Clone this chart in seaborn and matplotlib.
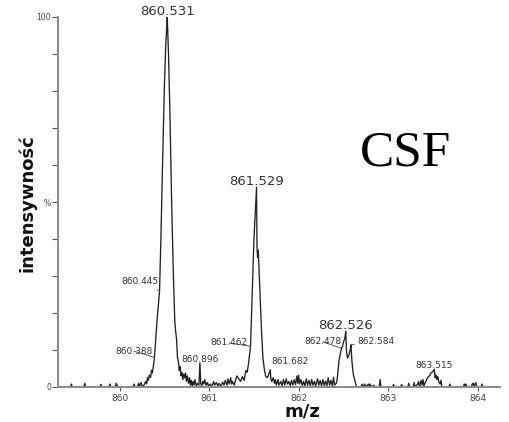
import matplotlib
matplotlib.use("Agg")
import matplotlib.pyplot as plt
import seaborn as sns
import pandas as pd

# ---- spectrum profile (m/z, relative intensity %) ----
mz = [
    859.31, 859.45, 859.46, 859.47, 859.60, 859.61, 859.62, 859.78, 859.79, 859.80,
    859.88, 859.89, 859.90, 859.95, 859.96, 859.97, 859.98, 860.15, 860.16, 860.17,
    860.20, 860.21, 860.22, 860.24, 860.25, 860.27, 860.29, 860.30, 860.31, 860.32,
    860.33, 860.345, 860.355, 860.365, 860.375, 860.388, 860.40, 860.42, 860.435, 860.445,
    860.46, 860.48, 860.50, 860.515, 860.525, 860.531, 860.537, 860.545, 860.56, 860.58,
    860.60, 860.615, 860.625, 860.635, 860.645, 860.655, 860.665, 860.675, 860.685, 860.695,
    860.705, 860.715, 860.725, 860.735, 860.745, 860.755, 860.77, 860.78, 860.79, 860.80,
    860.81, 860.82, 860.83, 860.84, 860.855, 860.87, 860.885, 860.896, 860.905, 860.915,
    860.93, 860.94, 860.95, 860.965, 860.98, 860.99, 861.01, 861.03, 861.05, 861.06,
    861.08, 861.095, 861.11, 861.13, 861.15, 861.165, 861.18, 861.20, 861.21, 861.225,
    861.24, 861.25, 861.26, 861.28, 861.295, 861.31, 861.33, 861.35, 861.37, 861.39,
    861.41, 861.425, 861.44, 861.462, 861.48, 861.50, 861.52, 861.529, 861.534, 861.54,
    861.548, 861.555, 861.57, 861.585, 861.60, 861.615, 861.63, 861.645, 861.66, 861.682,
    861.69, 861.70, 861.715, 861.73, 861.74, 861.75, 861.77, 861.78, 861.80, 861.815,
    861.83, 861.845, 861.86, 861.875, 861.89, 861.905, 861.92, 861.935, 861.95, 861.965,
    861.98, 861.99, 862.00, 862.01, 862.025, 862.04, 862.055, 862.07, 862.085, 862.10,
    862.115, 862.13, 862.145, 862.16, 862.175, 862.19, 862.21, 862.225, 862.24, 862.255,
    862.27, 862.285, 862.30, 862.315, 862.33, 862.345, 862.36, 862.375, 862.39, 862.40,
    862.42, 862.43, 862.45, 862.465, 862.478, 862.49, 862.505, 862.515, 862.526, 862.535,
    862.545, 862.56, 862.575, 862.584, 862.595, 862.61, 862.62, 862.63, 862.64, 862.655,
    862.70, 862.71, 862.72, 862.74, 862.75, 862.78, 862.79, 862.80, 862.81, 862.84,
    862.85, 862.90, 862.91, 862.92, 863.05, 863.06, 863.07, 863.14, 863.15, 863.16,
    863.22, 863.23, 863.24, 863.28, 863.29, 863.30, 863.33, 863.34, 863.35, 863.37,
    863.38, 863.39, 863.40, 863.42, 863.44, 863.46, 863.48, 863.50, 863.515, 863.525,
    863.535, 863.545, 863.555, 863.565, 863.58, 863.59, 863.60, 863.68, 863.69, 863.70,
    863.84, 863.85, 863.86, 863.87, 863.88, 863.93, 863.94, 863.95, 863.96, 863.98,
    863.99, 864.04, 864.05, 864.06, 864.24,
]
intensity = [
    0.0, 0.0, 0.8, 0.0, 0.0, 1.0, 0.0, 0.0, 0.7, 0.0,
    0.0, 0.8, 0.0, 0.0, 1.0, 0.5, 0.0, 0.0, 0.8, 0.0,
    0.0, 1.0, 0.3, 1.2, 0.0, 0.5, 1.5, 0.8, 2.5, 1.8,
    3.2, 2.6, 4.5, 3.8, 5.5, 8.0, 12.0, 19.0, 23.0, 26.0,
    40.0, 62.0, 82.0, 93.0, 97.0, 100.0, 96.0, 90.0, 75.0, 50.0,
    30.0, 18.0, 15.0, 13.0, 8.0, 7.0, 4.5, 5.5, 3.0, 4.0,
    2.0, 3.5, 2.5, 3.8, 1.5, 3.0, 1.0, 2.5, 0.5, 1.8,
    0.3, 1.5, 0.5, 2.0, 0.3, 1.0, 0.5, 6.5, 1.0, 0.3,
    1.5, 0.8, 2.0, 0.5, 1.2, 0.3, 0.8, 0.2, 1.5, 0.5,
    1.2, 0.3, 1.0, 0.2, 1.3, 0.5, 1.8, 0.5, 2.2, 0.8,
    2.5, 0.8, 1.5, 0.5, 2.0, 3.0, 2.2, 1.5, 2.8, 1.8,
    4.5, 4.0, 6.5, 11.0, 25.0, 40.0, 50.0, 54.0, 38.0, 35.0,
    37.0, 33.0, 24.0, 15.0, 8.0, 5.0, 3.0, 2.5, 3.0, 4.6,
    2.0, 1.5, 2.5, 1.0, 2.0, 0.5, 2.0, 0.5, 1.5, 0.3,
    2.0, 0.5, 2.2, 0.8, 1.5, 0.3, 1.8, 0.5, 2.0, 0.6,
    3.0, 1.0, 3.2, 0.8, 2.0, 0.4, 1.5, 0.3, 2.2, 0.5,
    1.8, 0.3, 2.0, 0.5, 1.5, 0.3, 2.2, 0.5, 1.8, 0.3,
    2.0, 0.4, 1.6, 0.3, 2.5, 0.5, 1.8, 0.3, 2.6, 0.5,
    1.0, 2.0, 7.0, 9.0, 10.5, 11.0, 12.5, 13.0, 15.0, 9.5,
    7.8, 8.5, 10.0, 11.4, 7.0, 3.5, 2.5, 1.5, 0.5, 0.0,
    0.0, 0.8, 0.0, 0.8, 0.0, 0.8, 0.0, 0.8, 0.0, 0.5,
    0.0, 0.0, 2.0, 0.0, 0.0, 0.7, 0.0, 0.0, 0.7, 0.0,
    0.0, 1.0, 0.0, 0.0, 1.2, 0.0, 0.8, 1.5, 0.0, 1.8,
    0.5, 2.0, 0.3, 1.5, 2.5, 3.0, 3.8, 4.2, 4.8, 2.5,
    3.2, 2.0, 2.8, 1.5, 0.8, 1.8, 0.0, 0.0, 0.8, 0.0,
    0.0, 0.8, 0.3, 0.8, 0.0, 0.0, 0.8, 1.0, 0.2, 1.2,
    0.0, 0.0, 0.8, 0.0, 0.0,
]

# ---- peak labels ----
major_peaks = [860.531, 861.529, 862.526]
major_heights = [100.0, 54.0, 15.0]
small_centered = [860.896, 863.515]
small_centered_h = [6.5, 4.8]
# labels with leader lines
leader_mz = [860.445, 860.388, 861.462, 862.478, 861.682, 862.584]
leader_h = [26.0, 8.0, 11.0, 10.5, 4.6, 11.4]
leader_tx = [860.437, 860.365, 861.428, 862.474, 861.69, 862.659]
leader_ty = [28.4, 9.7, 11.9, 12.2, 6.8, 12.4]
leader_ha = ["right", "right", "right", "right", "left", "left"]

xticks = [860, 861, 862, 863, 864]
yticks = [0, 10, 20, 30, 40, 50, 60, 70, 80, 90, 100]
ytick_labels = ["0", "", "", "", "", "%", "", "", "", "", "100"]

sns.set_style("white")
plt.rcParams["font.family"] = ["DejaVu Sans"]

fig = plt.figure(figsize=(5.09, 4.22), dpi=100)
ax = fig.add_axes([58 / 509, 1 - 387 / 422, (500 - 58) / 509, (387 - 17) / 422])

df = pd.DataFrame({"mz": mz, "intensity": intensity})
sns.lineplot(data=df, x="mz", y="intensity", ax=ax, color="#222222",
             linewidth=0.95, estimator=None, sort=False)

ax.set_xlim(859.31, 864.25)
ax.set_ylim(0, 100)

gray = "#8a8a8a"
for s in ["top", "right"]:
    ax.spines[s].set_visible(False)
for s in ["left", "bottom"]:
    ax.spines[s].set_color(gray)
    ax.spines[s].set_linewidth(1.4)

ax.set_xticks(xticks)
ax.set_xticklabels([str(t) for t in xticks])
ax.set_yticks(yticks)
ax.set_yticklabels(ytick_labels)
ax.tick_params(axis="x", direction="out", length=3, width=0.8, color="#555555",
               labelsize=6.5, labelcolor="#444444", pad=2, bottom=True)
ax.tick_params(axis="y", direction="out", length=4, width=0.8, color="#555555",
               labelsize=5.5, labelcolor="#444444", pad=1, left=True)

ax.set_xlabel("m/z", fontsize=13, fontweight="bold", color="#111111")
ax.set_ylabel("intensywność", fontsize=13, fontweight="bold", color="#111111")
ax.xaxis.set_label_coords((302 - 58) / 442, -(403 - 387) / 370)
ax.yaxis.set_label_coords(-(58 - 37) / 442, (387 - 203) / 370)

tc = "#333333"
for x, h in zip(major_peaks, major_heights):
    ax.text(x, h - 0.2, f"{x:.3f}", ha="center", va="bottom", fontsize=9.5,
            color=tc, clip_on=False)
for x, h in zip(small_centered, small_centered_h):
    ax.text(x, h - 0.3, f"{x:.3f}", ha="center", va="bottom", fontsize=6.5, color=tc)
for x, h, tx, ty, ha in zip(leader_mz, leader_h, leader_tx, leader_ty, leader_ha):
    ax.annotate(f"{x:.3f}", xy=(x, h), xytext=(tx, ty), ha=ha, va="center",
                fontsize=6.5, color=tc,
                arrowprops=dict(arrowstyle="-", lw=0.6, color="#444444",
                                shrinkA=0, shrinkB=0))

fig.text(405 / 509, 1 - 165 / 422, "CSF", ha="center", va="baseline",
         fontsize=37, family="Liberation Serif", color="black")

fig.savefig("out.png", dpi=100)
